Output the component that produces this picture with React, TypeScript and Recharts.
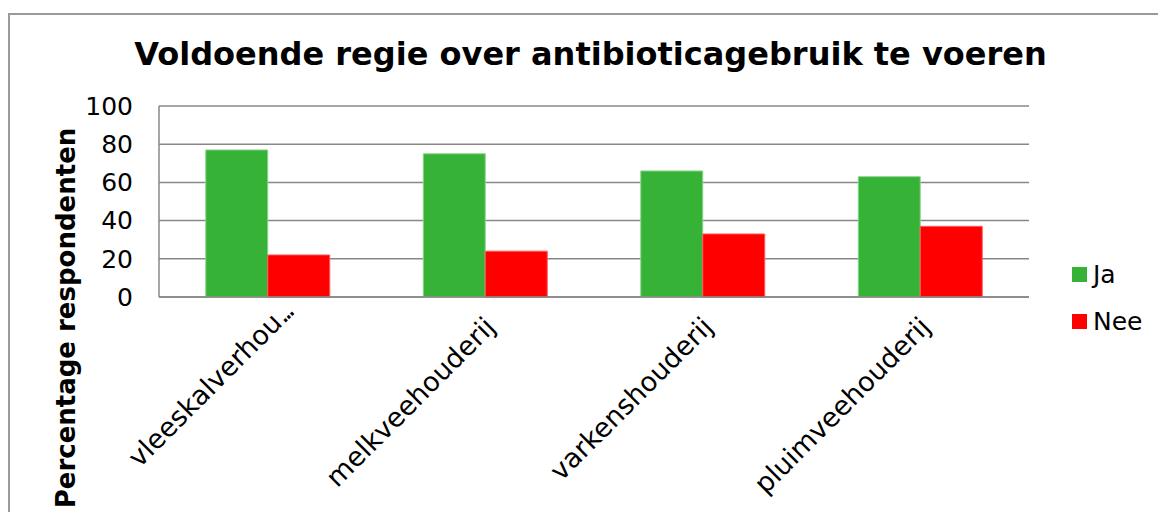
import React from "react";
import { BarChart, Bar, XAxis, YAxis, CartesianGrid, Legend } from "recharts";

const categories = ["vleeskalverhou...", "melkveehouderij", "varkenshouderij", "pluimveehouderij"];
const jaValues = [77, 75, 66, 63];
const neeValues = [22, 24, 33, 37];
const yTicks = [0, 20, 40, 60, 80, 100];

const data = categories.map((name, i) => ({ name, Ja: jaValues[i], Nee: neeValues[i] }));

const font = "'DejaVu Sans', Verdana, sans-serif";
const gridColor = "#878787";

// labels cut off by Excel end in tight dots and sit a bit further right
const XTick = (props: any) => {
  const { x, y, payload } = props;
  const label: string = payload.value;
  const cut = label.endsWith("...");
  const shift = cut ? 14 : 0;
  return (
    <g transform={`translate(${x + 5 + shift},${y + 17 - shift})`}>
      <text
        transform="rotate(-45)"
        textAnchor="end"
        fontFamily={font}
        fontSize={27}
        fill="#000"
        dy="0.35em"
      >
        {cut ? (
          <>
            {label.slice(0, -3)}
            <tspan letterSpacing={-4}>...</tspan>
          </>
        ) : (
          label
        )}
      </text>
    </g>
  );
};

const LegendContent = (props: any) => {
  const items = props.payload || [];
  return (
    <div>
      {items.map((item: any) => (
        <div
          key={item.value}
          style={{ display: "flex", alignItems: "center", height: 47, fontFamily: font, fontSize: 25, color: "#000" }}
        >
          <span style={{ width: 15, height: 15, background: item.color, marginRight: 6, display: "inline-block" }} />
          {item.value}
        </div>
      ))}
    </div>
  );
};

export default function App() {
  return (
    <div style={{ position: "relative", width: 1158, height: 512, overflow: "hidden", background: "#fff" }}>
      <style>{"body{margin:0}"}</style>
      <div
        style={{
          position: "absolute",
          left: 8,
          top: 13,
          width: 1300,
          height: 700,
          border: "2px solid #9a9a9a",
        }}
      />
      <div
        style={{
          position: "absolute",
          left: 0,
          width: 1181,
          top: 35,
          textAlign: "center",
          fontFamily: font,
          fontWeight: "bold",
          fontSize: 32,
          color: "#000",
          whiteSpace: "nowrap",
        }}
      >
        Voldoende regie over antibioticagebruik te voeren
      </div>
      <div
        style={{
          position: "absolute",
          left: 66,
          top: 318,
          transform: "translate(-50%, -50%) rotate(-90deg)",
          whiteSpace: "nowrap",
          fontFamily: font,
          fontWeight: "bold",
          fontSize: 26,
          color: "#000",
        }}
      >
        Percentage respondenten
      </div>
      <div style={{ position: "absolute", left: 0, top: 0 }}>
        <BarChart
          width={1158}
          height={512}
          data={data}
          margin={{ top: 106, right: 39, bottom: 0, left: 60 }}
          barGap={0}
          barCategoryGap="21.5%"
        >
          <CartesianGrid vertical={false} stroke={gridColor} strokeWidth={1.5} />
          <XAxis
            dataKey="name"
            tick={<XTick />}
            tickLine={false}
            axisLine={{ stroke: gridColor, strokeWidth: 1.5 }}
            interval={0}
            height={215}
          />
          <YAxis
            domain={[0, 100]}
            ticks={yTicks}
            width={99}
            tickLine={false}
            tickSize={0}
            tickMargin={26}
            axisLine={{ stroke: gridColor, strokeWidth: 1.5 }}
            tick={{ fontFamily: font, fontSize: 25, fill: "#000" }}
          />
          <Legend
            layout="vertical"
            align="right"
            verticalAlign="top"
            content={<LegendContent />}
            wrapperStyle={{ left: 1072, top: 251, width: 90 }}
          />
          <Bar dataKey="Ja" fill="#36B237" stroke="#8fd58f" strokeWidth={1} isAnimationActive={false} />
          <Bar dataKey="Nee" fill="#FF0000" stroke="#ff5a5a" strokeWidth={1} isAnimationActive={false} />
        </BarChart>
      </div>
    </div>
  );
}
